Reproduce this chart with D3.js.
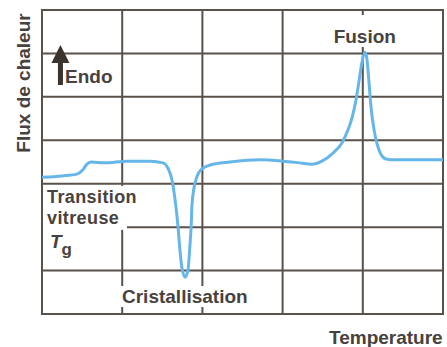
<!DOCTYPE html>
<html>
  <head>
    <meta charset="utf-8">
    <title>DSC</title>
    <style>
      body { margin: 0; background: #fff; }
      text { font-family: "Liberation Sans", Arial, sans-serif; font-weight: bold; font-size: 19px; fill: #48423e; }
    </style>
  </head>
  <body>
    <div id="chart"></div>
    <script src="https://cdn.jsdelivr.net/npm/d3@7/dist/d3.min.js"></script>
    <script>

    // temperature (arbitrary units, 0-100) and heat flow (grid units, 0-7)
    var temperature = [0, 5, 8.7, 10.2, 11.2, 12.2, 15.7, 21.2, 26.9,
                       30.2, 31.4, 32.4, 33.2, 33.9, 34.4, 34.9, 35.7, 36.4, 36.9, 37.2, 37.4, 37.9, 38.7, 39.9, 41.9, 46.9,
                       54.4, 60.1, 64.3, 67.3, 69.8, 72.5, 74.8, 76.3, 77.3, 78.3, 79.1, 79.8, 80.5,
                       81.0, 81.5, 82.0, 82.8, 83.5, 84.5, 85.8, 88, 100];
    var heatFlow = [3.15, 3.18, 3.22, 3.32, 3.45, 3.50, 3.48, 3.52, 3.52,
                    3.48, 3.36, 3.09, 2.62, 2.03, 1.47, 1.06, 0.85, 1.01, 1.59, 2.03, 2.51, 2.90, 3.18, 3.34, 3.43, 3.50,
                    3.55, 3.52, 3.48, 3.45, 3.52, 3.70, 3.94, 4.24, 4.51, 4.93, 5.39, 5.80, 6.03,
                    5.89, 5.39, 4.81, 4.24, 3.94, 3.68, 3.57, 3.55, 3.55];

    var xTicks = [0, 20, 40, 60, 80, 100];
    var yTicks = [0, 1, 2, 3, 4, 5, 6, 7];

    var width = 447;
    var height = 347;

    var x = d3.scaleLinear().domain([0, 100]).range([42, 443]);
    var y = d3.scaleLinear().domain([0, 7]).range([314, 10]);

    var svg = d3.select('#chart')
                .append('svg')
                .attr('width', width)
                .attr('height', height);

    var gridColor = '#5a514a';

    // grid
    svg.selectAll('.vline')
       .data(xTicks)
       .enter()
       .append('line')
       .attr('class', 'vline')
       .attr('x1', function(d) { return x(d); })
       .attr('x2', function(d) { return x(d); })
       .attr('y1', y(7))
       .attr('y2', y(0))
       .attr('stroke', gridColor)
       .attr('stroke-width', 2);

    svg.selectAll('.hline')
       .data(yTicks)
       .enter()
       .append('line')
       .attr('class', 'hline')
       .attr('x1', x(0) - 1)
       .attr('x2', x(100) + 1)
       .attr('y1', function(d) { return y(d); })
       .attr('y2', function(d) { return y(d); })
       .attr('stroke', gridColor)
       .attr('stroke-width', 2);

    // white boxes behind the labels
    svg.append('rect').attr('x', x(0) + 1).attr('y', y(2.95)).attr('width', 84).attr('height', 44).attr('fill', '#fff');
    svg.append('rect').attr('x', 120).attr('y', 286).attr('width', 130).attr('height', 21).attr('fill', '#fff');
    svg.append('rect').attr('x', 331).attr('y', 15).attr('width', 66).attr('height', 32).attr('fill', '#fff');

    // curve
    var pts = temperature.map(function(t, i) { return [t, heatFlow[i]]; });
    var line = d3.line()
                 .x(function(d) { return x(d[0]); })
                 .y(function(d) { return y(d[1]); })
                 .curve(d3.curveMonotoneX);

    svg.append('path')
       .datum(pts)
       .attr('d', line)
       .attr('fill', 'none')
       .attr('stroke', '#66b6ea')
       .attr('stroke-width', 3)
       .attr('stroke-linejoin', 'round');

    // endo arrow
    var ax = x(4.6);
    svg.append('path')
       .attr('d', 'M' + ax + ',45 L' + (ax - 9) + ',63 L' + (ax + 9) + ',63 Z')
       .attr('fill', '#3b332e');
    svg.append('rect')
       .attr('x', ax - 2.5).attr('y', 60).attr('width', 5).attr('height', 25)
       .attr('fill', '#3b332e');

    // labels
    svg.append('text').attr('x', 65).attr('y', 83).text('Endo');
    svg.append('text').attr('x', x(80.5)).attr('y', 43).attr('text-anchor', 'middle').text('Fusion');
    svg.append('text').attr('x', 47).attr('y', 203)
       .style('font-size', '18px').style('letter-spacing', '0.4px').text('Transition');
    svg.append('text').attr('x', 47).attr('y', 223.5)
       .style('font-size', '18px').style('letter-spacing', '0.4px').text('vitreuse');
    var tg = svg.append('text').attr('x', 50).attr('y', 248);
    tg.append('tspan').attr('font-style', 'italic').text('T');
    tg.append('tspan').attr('dy', 7).attr('font-size', '17px').text('g');
    svg.append('text').attr('x', 122).attr('y', 303).text('Cristallisation');
    svg.append('text').attr('x', 329).attr('y', 344).text('Temperature');
    svg.append('text')
       .attr('transform', 'translate(30,83) rotate(-90)')
       .attr('text-anchor', 'middle')
       .text('Flux de chaleur');

    </script>
  </body>
</html>
